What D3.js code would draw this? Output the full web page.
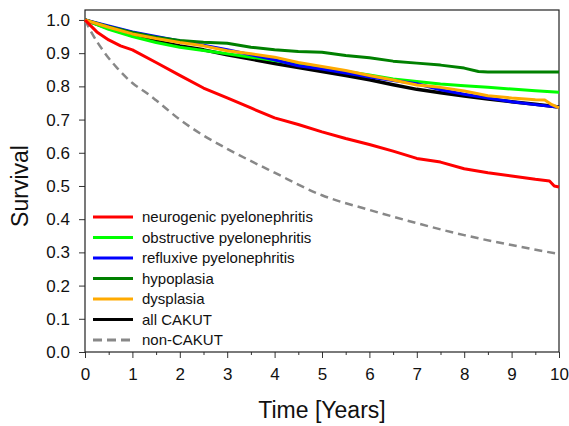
<!DOCTYPE html>
<html>
<head>
<meta charset="utf-8">
<script src="https://cdn.jsdelivr.net/npm/d3@7"></script>
<style>
  body { margin: 0; background: #fff; }
  text { font-family: "Liberation Sans", Arial, sans-serif; fill: #111; }
</style>
</head>
<body>
<div class="chart"></div>
<script>
// Kaplan-Meier style survival curves

var seriesNames = ["neurogenic pyelonephritis", "obstructive pyelonephritis", "refluxive pyelonephritis",
  "hypoplasia", "dysplasia", "all CAKUT", "non-CAKUT"];
var seriesColors = ["#ff0000", "#00ff00", "#0000ff", "#008000", "#ffaa00", "#000000", "#888888"];

var tHalf = [0, 0.5, 1, 1.5, 2, 2.5, 3, 3.5, 4, 4.5, 5, 5.5, 6, 6.5, 7, 7.5, 8, 8.5, 9, 9.5, 10];

var neuroT = [0, 0.25, 0.5, 0.75, 1, 1.5, 2, 2.5, 3, 3.5, 4, 4.5, 5, 5.5, 6, 6.5, 7, 7.5, 8, 8.5, 9, 9.5, 9.8, 9.9, 10];
var neuroS = [1, 0.964, 0.94, 0.922, 0.91, 0.872, 0.833, 0.795, 0.765, 0.735, 0.705, 0.685, 0.663, 0.643, 0.625, 0.605, 0.583, 0.572, 0.552, 0.54, 0.53, 0.52, 0.515, 0.5, 0.497];

var obstrS = [1, 0.972, 0.95, 0.932, 0.918, 0.908, 0.898, 0.888, 0.878, 0.866, 0.855, 0.845, 0.834, 0.822, 0.815, 0.807, 0.802, 0.797, 0.792, 0.787, 0.782];
var refluxS = [1, 0.982, 0.964, 0.95, 0.937, 0.924, 0.91, 0.895, 0.88, 0.862, 0.852, 0.84, 0.828, 0.818, 0.808, 0.79, 0.776, 0.765, 0.754, 0.745, 0.737];

var hypoT = [0, 0.5, 1, 1.5, 2, 2.5, 3, 3.5, 4, 4.5, 5, 5.5, 6, 6.5, 7, 7.5, 8, 8.3, 8.5, 10];
var hypoS = [1, 0.98, 0.962, 0.948, 0.938, 0.933, 0.93, 0.918, 0.91, 0.905, 0.903, 0.893, 0.886, 0.876, 0.87, 0.864, 0.855, 0.845, 0.843, 0.843];

var dysT = [0, 0.5, 1, 1.5, 2, 2.5, 3, 3.5, 4, 4.5, 5, 5.5, 6, 6.5, 7, 7.5, 8, 8.5, 9, 9.5, 9.7, 9.85, 10];
var dysS = [1, 0.978, 0.958, 0.944, 0.932, 0.922, 0.907, 0.898, 0.888, 0.872, 0.86, 0.848, 0.833, 0.819, 0.804, 0.797, 0.786, 0.772, 0.765, 0.76, 0.759, 0.745, 0.735];

var allS = [1, 0.975, 0.953, 0.936, 0.922, 0.91, 0.895, 0.882, 0.869, 0.857, 0.845, 0.833, 0.82, 0.805, 0.791, 0.781, 0.771, 0.762, 0.754, 0.746, 0.738];

var nonT = [0, 0.13, 0.4, 0.68, 1, 1.3, 1.5, 2, 2.5, 3, 4, 5, 6, 7, 8, 9, 10];
var nonS = [1, 0.964, 0.904, 0.855, 0.81, 0.78, 0.758, 0.70, 0.652, 0.612, 0.54, 0.472, 0.428, 0.388, 0.352, 0.322, 0.295];

var xTicks = [0, 1, 2, 3, 4, 5, 6, 7, 8, 9, 10];
var xMinor = [0.5, 1.5, 2.5, 3.5, 4.5, 5.5, 6.5, 7.5, 8.5, 9.5];
var yTicks = [0, 0.1, 0.2, 0.3, 0.4, 0.5, 0.6, 0.7, 0.8, 0.9, 1.0];

function zip(ts, ss) {
  return ts.map(function(t, i) { return { t: t, s: ss[i] }; });
}

var seriesData = [
  zip(neuroT, neuroS),
  zip(tHalf, obstrS),
  zip(tHalf, refluxS),
  zip(hypoT, hypoS),
  zip(dysT, dysS),
  zip(tHalf, allS),
  zip(nonT, nonS)
];

// Set up chart
var svgWidth = 569;
var svgHeight = 426;
var margin = { top: 10, right: 10, bottom: 74, left: 85 };
var width = svgWidth - margin.left - margin.right;
var height = svgHeight - margin.top - margin.bottom;

var svg = d3.select(".chart")
  .append("svg")
  .attr("width", svgWidth)
  .attr("height", svgHeight);

var chartGroup = svg.append("g")
  .attr("transform", `translate(${margin.left}, ${margin.top})`);

var xScale = d3.scaleLinear().domain([0, 10]).range([0, width]);
var yScale = d3.scaleLinear().domain([0, 1.03]).range([height, 0]);

// minor x ticks
chartGroup.append("g")
  .attr("transform", `translate(0, ${height})`)
  .call(d3.axisBottom(xScale).tickValues(xMinor).tickSize(3).tickFormat(""))
  .call(g => g.select(".domain").remove())
  .selectAll("line").attr("stroke", "#333");

var xAxis = chartGroup.append("g")
  .attr("transform", `translate(0, ${height})`)
  .call(d3.axisBottom(xScale).tickValues(xTicks).tickSize(6).tickPadding(10).tickFormat(d3.format("d")));
xAxis.select(".domain").remove();
xAxis.selectAll("line").attr("stroke", "#333");
xAxis.selectAll("text").attr("font-size", 17).attr("font-family", "Liberation Sans, Arial, sans-serif").attr("fill", "#111");

var yAxis = chartGroup.append("g")
  .call(d3.axisLeft(yScale).tickValues(yTicks).tickSize(6).tickPadding(9).tickFormat(d3.format(".1f")));
yAxis.select(".domain").remove();
yAxis.selectAll("line").attr("stroke", "#333");
yAxis.selectAll("text").attr("font-size", 17).attr("font-family", "Liberation Sans, Arial, sans-serif").attr("fill", "#111");

// frame
chartGroup.append("rect")
  .attr("x", 0).attr("y", 0)
  .attr("width", width).attr("height", height)
  .attr("fill", "none")
  .attr("stroke", "#222")
  .attr("stroke-width", 1.2);

var line = d3.line()
  .x(d => xScale(d.t))
  .y(d => yScale(d.s));

var smoothLine = d3.line()
  .curve(d3.curveMonotoneX)
  .x(d => xScale(d.t))
  .y(d => yScale(d.s));

// drawing order: non-CAKUT, all CAKUT, then groups
var drawOrder = [6, 5, 1, 2, 3, 4, 0];
drawOrder.forEach(function(i) {
  chartGroup.append("path")
    .datum(seriesData[i])
    .attr("fill", "none")
    .attr("stroke", seriesColors[i])
    .attr("stroke-width", i === 5 ? 3.5 : (i === 6 ? 2.5 : 3))
    .attr("stroke-dasharray", i === 6 ? "8,5" : null)
    .attr("stroke-linejoin", "round")
    .attr("d", i === 6 ? smoothLine : line);
});

// legend
var legend = svg.append("g");
seriesNames.forEach(function(name, i) {
  var ly = 217 + i * 20.5;
  legend.append("line")
    .attr("x1", 93).attr("x2", 133)
    .attr("y1", ly).attr("y2", ly)
    .attr("stroke", seriesColors[i])
    .attr("stroke-width", 3)
    .attr("stroke-dasharray", i === 6 ? "9,5" : null);
  legend.append("text")
    .attr("x", 142).attr("y", ly + 5)
    .attr("font-size", 15)
    .text(name);
});

// axis labels
svg.append("text")
  .attr("x", margin.left + width / 2)
  .attr("y", 418)
  .attr("text-anchor", "middle")
  .attr("font-size", 23)
  .text("Time [Years]");

svg.append("text")
  .attr("transform", `translate(28, ${margin.top + yScale(0.5)}) rotate(-90)`)
  .attr("text-anchor", "middle")
  .attr("font-size", 23)
  .text("Survival");
</script>
</body>
</html>
